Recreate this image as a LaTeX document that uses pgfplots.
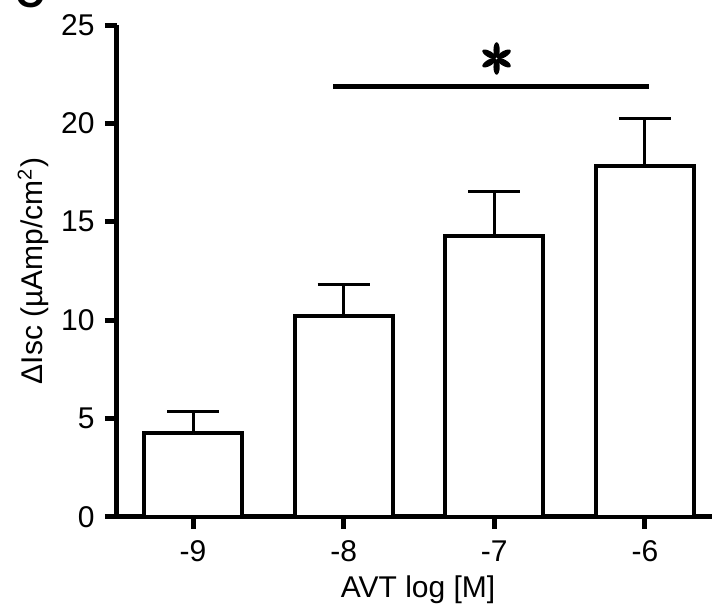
\documentclass[border=0pt]{standalone}
\usepackage{fontspec}
\setmainfont{Liberation Sans}
\usepackage{pgfplots}
\pgfplotsset{compat=1.18}
\newcommand\chartfont{\fontsize{12}{14.4}\selectfont}

% 1 px of the reference = 0.4pt
\begin{document}
\begin{tikzpicture}
\chartfont
\begin{axis}[
  scale only axis,
  width=238pt, height=196.8pt,
  xmin=0.495, xmax=4.445,
  ymin=0, ymax=25,
  axis x line*=bottom, axis y line*=left,
  axis line style={line width=2pt},
  xtick={1,2,3,4}, xticklabels={-9,-8,-7,-6},
  ytick={0,5,10,15,20,25},
  tick style={line width=2pt, black},
  tick align=outside, major tick length=4.8pt,
  /pgf/number format/assume math mode=true,
  xticklabel style={font=\chartfont, yshift=-0.6pt},
  yticklabel style={font=\chartfont},
  xlabel={AVT log [M]},
  ylabel={ΔIsc (µAmp/cm\textsuperscript{2})},
  every axis label/.append style={font=\chartfont},
  xlabel style={at={(axis description cs:0.506,-0.148)}, anchor=center},
  ylabel style={at={(axis description cs:-0.141,0.5)}, anchor=center},
  clip=false,
]
\addplot[ybar, bar width=39.2pt, fill=white, draw=black, line width=1.6pt,
  error bars/.cd, y dir=plus, y explicit,
  error bar style={line width=1.2pt},
  error mark options={line width=1.2pt, mark size=10.4pt, rotate=90}]
  coordinates {
    (1,4.25) +- (0,1.10)
    (2,10.21) +- (0,1.60)
    (3,14.28) +- (0,2.25)
    (4,17.83) +- (0,2.40)
  };
\draw[line width=2pt] (axis cs:1.93,21.9) -- (axis cs:4.03,21.9);
\coordinate (star) at (axis cs:3.015,23.3);
\end{axis}
% six-petal asterisk over the significance bar
\begin{scope}[shift={(star)}]
  \fill[rotate=30]  (3.4pt,0) ellipse [x radius=3.1pt, y radius=1.25pt];
  \fill[rotate=90]  (3.4pt,0) ellipse [x radius=3.1pt, y radius=1.25pt];
  \fill[rotate=150] (3.4pt,0) ellipse [x radius=3.1pt, y radius=1.25pt];
  \fill[rotate=210] (3.4pt,0) ellipse [x radius=3.1pt, y radius=1.25pt];
  \fill[rotate=270] (3.4pt,0) ellipse [x radius=3.1pt, y radius=1.25pt];
  \fill[rotate=330] (3.4pt,0) ellipse [x radius=3.1pt, y radius=1.25pt];
\end{scope}
\node[anchor=base, font=\fontsize{16}{16}\selectfont\bfseries] at (-34.8pt,203.6pt) {C};
\pgfresetboundingbox
\useasboundingbox (-46.8pt,-37.2pt) rectangle (238pt,206.8pt);
\end{tikzpicture}
\end{document}
